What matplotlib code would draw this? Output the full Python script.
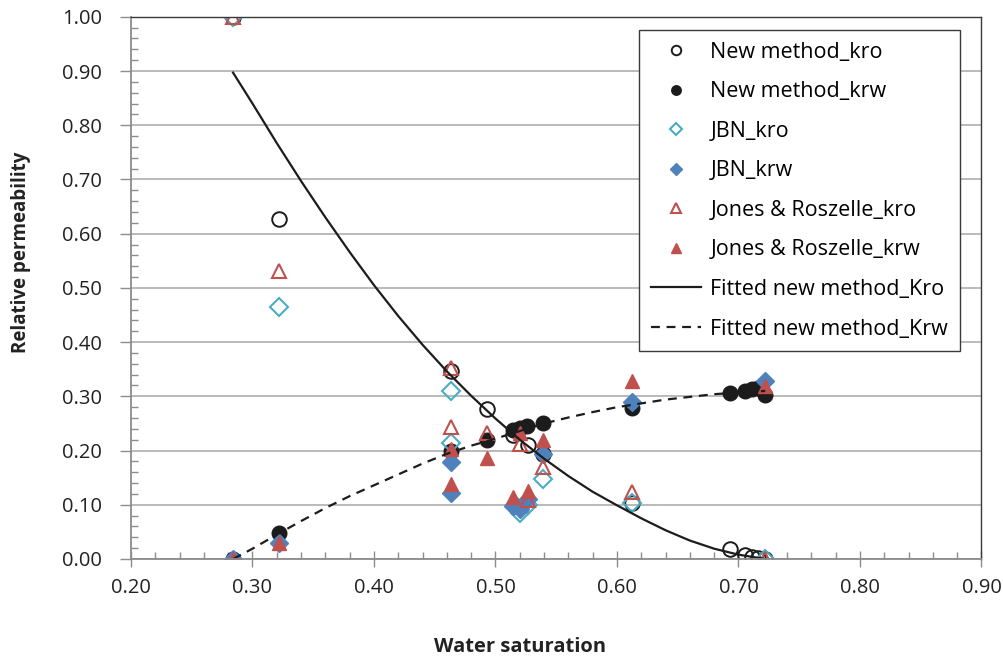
import matplotlib

matplotlib.use("Agg")
import matplotlib.pyplot as plt
from matplotlib.ticker import MultipleLocator, FormatStrFormatter

plt.rcParams["font.family"] = ["Open Sans", "DejaVu Sans"]

new_kro_sw = [0.284, 0.322, 0.463, 0.493, 0.514, 0.527, 0.539, 0.612, 0.693, 0.705, 0.711, 0.716, 0.722]
new_kro = [1.000, 0.627, 0.346, 0.277, 0.228, 0.210, 0.194, 0.103, 0.019, 0.008, 0.003, 0.001, 0.000]

new_krw_sw = [0.284, 0.322, 0.463, 0.493, 0.514, 0.520, 0.526, 0.539, 0.612, 0.693, 0.705, 0.711, 0.716, 0.722]
new_krw = [0.000, 0.048, 0.200, 0.220, 0.238, 0.242, 0.245, 0.251, 0.279, 0.307, 0.310, 0.313, 0.315, 0.302]

jbn_kro_sw = [0.284, 0.322, 0.463, 0.463, 0.516, 0.520, 0.527, 0.539, 0.612, 0.722]
jbn_kro = [1.000, 0.465, 0.309, 0.214, 0.099, 0.084, 0.099, 0.147, 0.104, 0.000]

jbn_krw_sw = [0.284, 0.322, 0.463, 0.463, 0.514, 0.520, 0.527, 0.539, 0.612, 0.722]
jbn_krw = [0.000, 0.030, 0.178, 0.122, 0.098, 0.093, 0.110, 0.194, 0.290, 0.328]

jr_kro_sw = [0.284, 0.322, 0.463, 0.463, 0.493, 0.520, 0.527, 0.539, 0.612, 0.722]
jr_kro = [1.000, 0.531, 0.352, 0.244, 0.233, 0.213, 0.108, 0.169, 0.123, 0.000]

jr_krw_sw = [0.284, 0.322, 0.463, 0.463, 0.493, 0.514, 0.520, 0.527, 0.539, 0.612, 0.722]
jr_krw = [0.000, 0.030, 0.202, 0.138, 0.187, 0.114, 0.232, 0.126, 0.219, 0.328, 0.319]

# fitted curves
fit_sw = [0.284, 0.30, 0.32, 0.34, 0.36, 0.38, 0.40, 0.42, 0.44, 0.46, 0.48, 0.50,
          0.52, 0.54, 0.56, 0.58, 0.60, 0.62, 0.64, 0.66, 0.68, 0.70, 0.722]
fit_kro = [0.897, 0.840, 0.767, 0.697, 0.630, 0.566, 0.505, 0.448, 0.395, 0.346, 0.301, 0.259,
           0.220, 0.185, 0.153, 0.124, 0.099, 0.075, 0.053, 0.034, 0.019, 0.008, 0.000]
fit_krw = [0.000, 0.019, 0.045, 0.070, 0.094, 0.116, 0.136, 0.156, 0.176, 0.194, 0.209, 0.222,
           0.236, 0.250, 0.261, 0.271, 0.280, 0.287, 0.294, 0.299, 0.304, 0.307, 0.310]

black = "#1c1c1c"
aqua = "#4bacc6"
blue = "#4f81bd"
red = "#c0504d"
text_col = "#222222"
axis_gray = "#8c8c8c"


def main():
    fig = plt.figure(figsize=(10.04, 6.6), dpi=100)
    ax = fig.add_axes([131 / 1004, 101 / 660, 850.5 / 1004, 542.2 / 660])

    ax.plot(new_kro_sw, new_kro, "o", ms=10.5, mfc="none", mec=black, mew=1.4,
            label="New method_kro", ls="none")
    ax.plot(new_krw_sw, new_krw, "o", ms=10.5, mfc=black, mec=black, mew=1.0,
            label="New method_krw", ls="none")
    ax.plot(jbn_kro_sw, jbn_kro, "D", ms=9, mfc="none", mec=aqua, mew=1.5,
            label="JBN_kro", ls="none")
    ax.plot(jbn_krw_sw, jbn_krw, "D", ms=9, mfc=blue, mec=blue, mew=1.0,
            label="JBN_krw", ls="none")
    ax.plot(jr_kro_sw, jr_kro, "^", ms=10.5, mfc="none", mec=red, mew=1.5,
            label="Jones & Roszelle_kro", ls="none")
    ax.plot(jr_krw_sw, jr_krw, "^", ms=10.5, mfc=red, mec=red, mew=1.0,
            label="Jones & Roszelle_krw", ls="none")
    ax.plot(fit_sw, fit_kro, "-", color=black, lw=1.6, label="Fitted new method_Kro")
    ax.plot(fit_sw, fit_krw, color=black, lw=1.6, ls=(0, (4, 3)),
            label="Fitted new method_Krw")

    ax.set_xlim(0.2, 0.9)
    ax.set_ylim(0.0, 1.0)
    ax.xaxis.set_major_locator(MultipleLocator(0.1))
    ax.xaxis.set_minor_locator(MultipleLocator(0.02))
    ax.yaxis.set_major_locator(MultipleLocator(0.1))
    ax.yaxis.set_minor_locator(MultipleLocator(0.02))
    ax.xaxis.set_major_formatter(FormatStrFormatter("%.2f"))
    ax.yaxis.set_major_formatter(FormatStrFormatter("%.2f"))

    ax.tick_params(axis="x", which="major", direction="inout", length=12, width=1,
                   color=axis_gray, labelsize=14.5, pad=8, labelcolor=text_col)
    ax.tick_params(axis="x", which="minor", direction="in", length=5, width=1,
                   color=axis_gray)
    ax.tick_params(axis="y", which="major", direction="out", length=8, width=1,
                   color=axis_gray, labelsize=14.5, pad=13, labelcolor=text_col)
    ax.tick_params(axis="y", which="minor", direction="in", length=5, width=1,
                   color=axis_gray)

    ax.grid(True, axis="y", which="major", color="#b4b4b4", lw=1.3)
    ax.set_axisbelow(True)

    for side in ["left", "bottom"]:
        ax.spines[side].set_color(axis_gray)
        ax.spines[side].set_linewidth(1.3)
    for side in ["top", "right"]:
        ax.spines[side].set_color("#3a3a3a")
        ax.spines[side].set_linewidth(1.0)

    ax.set_xlabel("Water saturation", fontsize=14.5, fontweight="bold", color=text_col)
    ax.set_ylabel("Relative permeability", fontsize=13.5, fontweight="bold", color=text_col)
    ax.xaxis.set_label_coords(0.457, -0.143)
    ax.yaxis.set_label_coords(-0.118, 0.565)

    leg = ax.legend(loc="upper right", bbox_to_anchor=(0.9747, 0.9755), borderaxespad=0,
                    fontsize=15.5, fancybox=False, framealpha=1, edgecolor="#3a3a3a",
                    markerscale=0.65, labelspacing=0.86, handlelength=2.3,
                    handletextpad=0.45, borderpad=0.55)
    leg.get_frame().set_linewidth(1.0)

    fig.savefig("out.png", dpi=100)


if __name__ == "__main__":
    main()
